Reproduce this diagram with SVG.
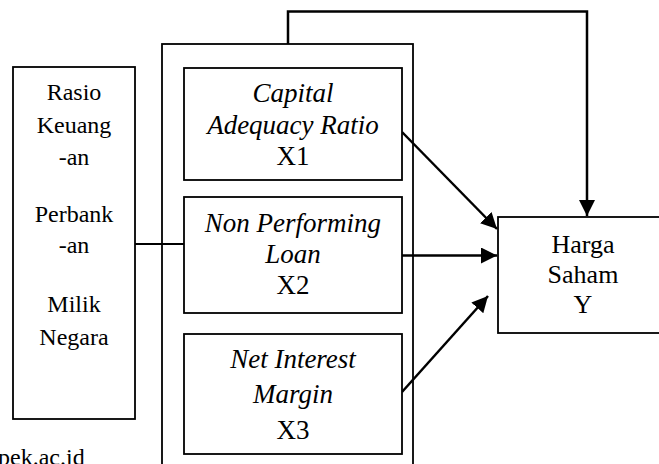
<svg xmlns="http://www.w3.org/2000/svg" width="659" height="464" viewBox="0 0 659 464">
<defs>
<style>
.box{fill:#fff;stroke:#000;stroke-width:1.8}
text{fill:#000;text-anchor:middle;font-family:'Liberation Serif','Times New Roman',serif}
.l{font-size:24px}
.i{font-size:27px}
.it{font-style:italic}
.h{font-size:26px}
.w{font-size:24px;text-anchor:start}
.c{fill:none;stroke:#000;stroke-width:2.5}
.c2{fill:none;stroke:#000;stroke-width:1.8}
</style>
<marker id="arr" markerUnits="userSpaceOnUse" markerWidth="16" markerHeight="16" viewBox="0 0 16 16" refX="16" refY="8" orient="auto">
<path d="M0,0 L16,8 L0,16 Z" fill="#000"/>
</marker>
</defs>
<rect width="659" height="464" fill="#fff"/>
<g id="outer">
<rect class="box" x="162" y="44" width="251" height="440"/>
</g>
<g id="connectors">
<path class="c2" d="M135,244 H184"/>
<path class="c" d="M288,44 V11.5 H587 V216" marker-end="url(#arr)"/>
<path class="c" d="M402,132 L497,229" marker-end="url(#arr)"/>
<path class="c" d="M402,255.5 H497" marker-end="url(#arr)"/>
<path class="c" d="M402,392 L488,296" marker-end="url(#arr)"/>
</g>
<g id="rasio">
<rect class="box" x="13" y="67" width="122" height="352"/>
<text class="l" x="74" y="100">Rasio</text>
<text class="l" x="74" y="133">Keuang</text>
<text class="l" x="74" y="165">-an</text>
<text class="l" x="74" y="222">Perbank</text>
<text class="l" x="74" y="253">-an</text>
<text class="l" x="74" y="312">Milik</text>
<text class="l" x="74" y="345">Negara</text>
</g>
<g id="x1">
<rect class="box" x="184" y="68" width="218" height="112"/>
<text class="i it" x="293" y="102">Capital</text>
<text class="i it" x="293" y="134">Adequacy Ratio</text>
<text class="i" x="293" y="165">X1</text>
</g>
<g id="x2">
<rect class="box" x="184" y="197" width="218" height="116"/>
<text class="i it" x="293" y="232">Non Performing</text>
<text class="i it" x="293" y="263">Loan</text>
<text class="i" x="293" y="294">X2</text>
</g>
<g id="x3">
<rect class="box" x="184" y="334" width="218" height="120"/>
<text class="i it" x="293" y="368">Net Interest</text>
<text class="i it" x="293" y="403">Margin</text>
<text class="i" x="293" y="439">X3</text>
</g>
<g id="y">
<rect class="box" x="498" y="217" width="175" height="116"/>
<text class="h" x="583" y="253">Harga</text>
<text class="h" x="583" y="283">Saham</text>
<text class="h" x="583" y="313">Y</text>
</g>
<text class="w" x="-2" y="465">pek.ac.id</text>
</svg>
